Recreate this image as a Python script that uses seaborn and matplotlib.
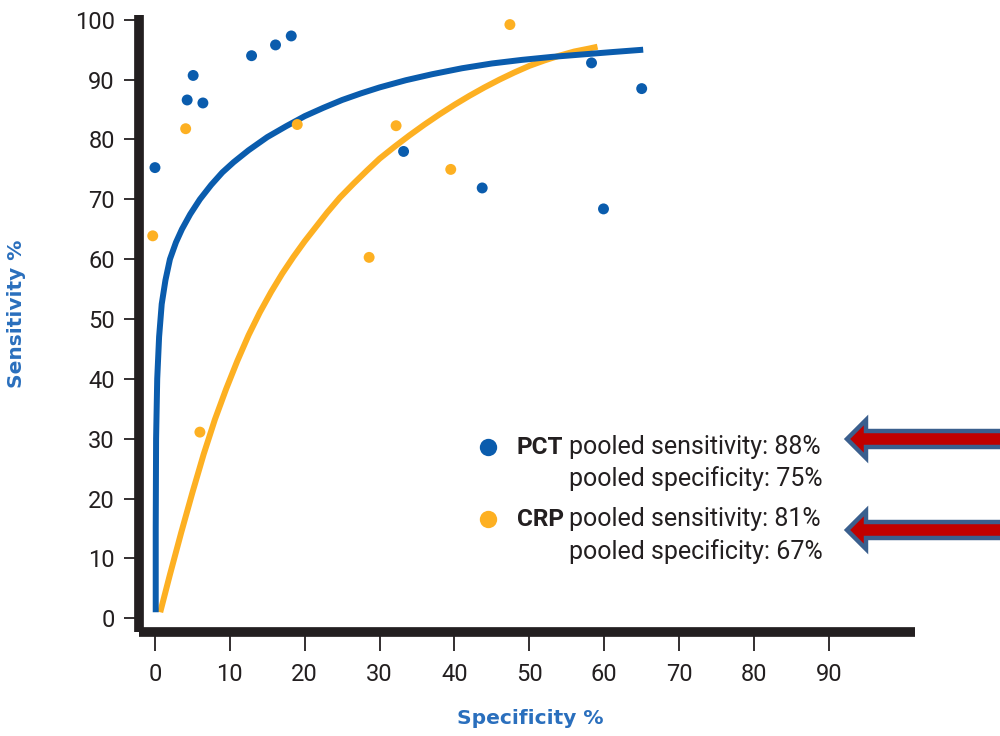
import numpy as np
import pandas as pd
import matplotlib
matplotlib.use("Agg")
import matplotlib.pyplot as plt
from matplotlib.lines import Line2D
from matplotlib.patches import Polygon
import seaborn as sns

# ---------------- data ----------------
pct_spec = [0.0, 4.3, 5.1, 6.4, 12.9, 16.1, 18.2, 33.2, 43.7, 58.3, 59.9, 65.0]
pct_sens = [75.3, 86.6, 90.7, 86.1, 94.0, 95.8, 97.3, 78.0, 71.9, 92.8, 68.4, 88.5]

crp_spec = [-0.3, 4.1, 6.0, 19.0, 28.6, 32.2, 39.5, 47.4]
crp_sens = [63.9, 81.8, 31.1, 82.5, 60.3, 82.3, 75.0, 99.2]

# SROC curves
pct_curve_x = [0.1, 0.1, 0.15, 0.3, 0.55, 0.9, 1.4, 2.0, 2.8, 3.6, 4.7, 6.0, 7.5, 9.0,
               10.5, 12.5, 15.0, 17.5, 20.0, 22.5, 25.0, 27.5, 30.0, 33.5, 37.0, 41.0,
               45.0, 49.0, 53.0, 57.0, 61.0, 65.2]
pct_curve_y = [1.0, 15.0, 30.0, 40.0, 47.0, 52.5, 56.5, 60.0, 62.8, 65.0, 67.5, 70.0,
               72.4, 74.5, 76.2, 78.2, 80.4, 82.2, 83.9, 85.3, 86.6, 87.7, 88.7, 89.9,
               90.9, 91.9, 92.7, 93.3, 93.8, 94.2, 94.6, 95.0]

crp_curve_x = [0.7, 2.0, 3.5, 5.0, 6.5, 8.0, 9.5, 11.0, 12.5, 14.0, 15.5, 17.0, 18.5,
               20.0, 21.5, 23.0, 24.7, 26.5, 28.3, 30.0, 32.0, 34.0, 36.0, 38.0, 40.0,
               42.0, 44.0, 46.0, 48.0, 50.0, 52.0, 54.0, 56.0, 58.0, 59.1]
crp_curve_y = [1.0, 7.3, 14.3, 21.0, 27.4, 33.2, 38.3, 43.0, 47.3, 51.1, 54.5, 57.6,
               60.4, 63.0, 65.4, 67.8, 70.3, 72.6, 74.8, 76.8, 78.8, 80.7, 82.5, 84.2,
               85.8, 87.3, 88.7, 90.0, 91.2, 92.3, 93.2, 94.0, 94.7, 95.2, 95.5]

x_ticks = [0, 10, 20, 30, 40, 50, 60, 70, 80, 90]
y_ticks = [0, 10, 20, 30, 40, 50, 60, 70, 80, 90, 100]

legend_names = ["PCT", "CRP"]
legend_line1 = ["pooled sensitivity: 88%", "pooled sensitivity: 81%"]
legend_line2 = ["pooled specificity: 75%", "pooled specificity: 67%"]

BLUE = "#0a5cad"
ORANGE = "#fdb022"
LABEL_BLUE = "#2a6fbd"
DARK = "#231f20"

# ---------------- style ----------------
sns.set_theme(style="white")
plt.rcParams["font.family"] = ["Roboto", "DejaVu Sans"]

W, H = 1000, 736
fig = plt.figure(figsize=(W / 100, H / 100), dpi=100)


def fx(px):
    return px / W


def fy(py):
    return 1 - py / H


ax = fig.add_axes([fx(138.5), fy(632), fx(915) - fx(138.5), fy(15) - fy(632)])

df_pts = pd.DataFrame({
    "spec": pct_spec + crp_spec,
    "sens": pct_sens + crp_sens,
    "test": ["PCT"] * len(pct_spec) + ["CRP"] * len(crp_spec),
})
df_pct_curve = pd.DataFrame({"spec": pct_curve_x, "sens": pct_curve_y})
df_crp_curve = pd.DataFrame({"spec": crp_curve_x, "sens": crp_curve_y})
palette = {"PCT": BLUE, "CRP": ORANGE}

sns.lineplot(data=df_crp_curve, x="spec", y="sens", color=ORANGE, sort=False,
             estimator=None, lw=4.3, ax=ax, legend=False, zorder=2,
             solid_joinstyle="round", solid_capstyle="butt")
sns.lineplot(data=df_pct_curve, x="spec", y="sens", color=BLUE, sort=False,
             estimator=None, lw=4.3, ax=ax, legend=False, zorder=3,
             solid_joinstyle="round", solid_capstyle="butt")
sns.scatterplot(data=df_pts, x="spec", y="sens", hue="test", palette=palette, s=62,
                edgecolor="none", ax=ax, legend=False, zorder=4)

ax.set_xlim(-2.2, 101.5)
ax.set_ylim(-2.3, 100.8)
ax.set_xticks(x_ticks)
ax.set_yticks(y_ticks)
ax.set_xticklabels([str(t) for t in x_ticks])
ax.set_yticklabels([str(t) for t in y_ticks])

for side in ["top", "right"]:
    ax.spines[side].set_visible(False)
for side in ["left", "bottom"]:
    ax.spines[side].set_linewidth(7)
    ax.spines[side].set_color(DARK)
    ax.spines[side].set_capstyle("butt")

ax.tick_params(axis="x", which="major", direction="out", length=14, width=1.3,
               color=DARK, labelsize=17, labelcolor=DARK, pad=8, bottom=True)
ax.tick_params(axis="y", which="major", direction="out", length=11, width=1.3,
               color=DARK, labelsize=17, labelcolor=DARK, pad=6, left=True)
ax.set_xlabel("")
ax.set_ylabel("")
ax.grid(False)

fig.text(fx(530), fy(718), "Specificity %", color=LABEL_BLUE, fontsize=14.5,
         fontweight="bold", family=["DejaVu Sans"], ha="center", va="center")
fig.text(fx(17), fy(314), "Sensitivity %", color=LABEL_BLUE, fontsize=14.5,
         fontweight="bold", family=["DejaVu Sans"], ha="center", va="center",
         rotation=90)

# legend block
rows = [(447, 479), (519, 552)]
for i, name in enumerate(legend_names):
    y1, y2 = rows[i]
    col = palette[name]
    fig.add_artist(Line2D([fx(488)], [fy(y1)], marker="o", markersize=12.5,
                          color=col, markeredgewidth=0, transform=fig.transFigure))
    fig.text(fx(517), fy(y1), name, fontsize=17.5, fontweight="bold", color=DARK,
             ha="left", va="center")
    fig.text(fx(569), fy(y1), legend_line1[i], fontsize=18, color=DARK,
             ha="left", va="center")
    fig.text(fx(569), fy(y2), legend_line2[i], fontsize=18, color=DARK,
             ha="left", va="center")

# red block arrows pointing at the legend
for tip_y in [439, 530]:
    verts = [(847, tip_y), (866, tip_y - 19), (866, tip_y - 8), (1010, tip_y - 8),
             (1010, tip_y + 8), (866, tip_y + 8), (866, tip_y + 19)]
    poly = Polygon([(fx(a), fy(b)) for a, b in verts], closed=True,
                   facecolor="#c00000", edgecolor="#3a5f8e", linewidth=3.2,
                   joinstyle="miter", transform=fig.transFigure)
    fig.add_artist(poly)

fig.savefig("out.png", dpi=100, facecolor="white")
